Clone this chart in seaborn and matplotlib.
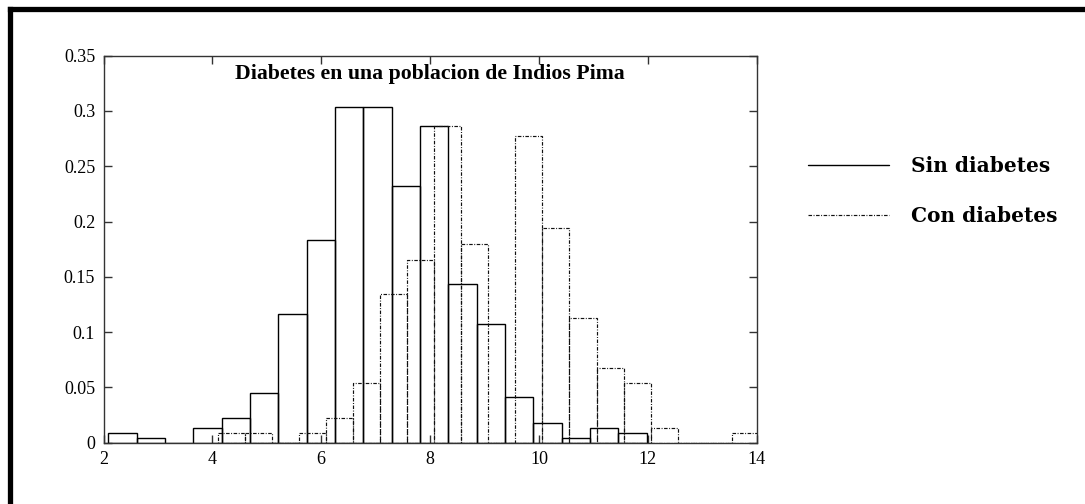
import numpy as np
import pandas as pd
import matplotlib
matplotlib.use("Agg")
import matplotlib.pyplot as plt
from matplotlib.lines import Line2D
import seaborn as sns

# ---- data ----
title = "Diabetes en una poblacion de Indios Pima"
series_names = ["Sin diabetes", "Con diabetes"]

sin_start = 2.09
sin_width = 0.5205
sin_heights = [0.0085, 0.0045, 0.0, 0.0130, 0.0220, 0.0447, 0.1161, 0.1833,
               0.3039, 0.3039, 0.2324, 0.2864, 0.1432, 0.1073, 0.0410, 0.0181,
               0.0045, 0.0130, 0.0085]

con_start = 4.10
con_width = 0.497
con_heights = [0.0085, 0.0085, 0.0, 0.0085, 0.0220, 0.0537, 0.1342, 0.1652,
               0.2864, 0.1794, 0.0, 0.2774, 0.1939, 0.1125, 0.0673, 0.0537,
               0.0130, 0.0, 0.0, 0.0085]

x_ticks = [2, 4, 6, 8, 10, 12, 14]
y_ticks = [0, 0.05, 0.1, 0.15, 0.2, 0.25, 0.3, 0.35]
y_tick_labels = ["0", "0.05", "0.1", "0.15", "0.2", "0.25", "0.3", "0.35"]

# ---- style ----
sns.set_style("ticks")
plt.rcParams["font.family"] = ["Liberation Serif", "DejaVu Serif"]
plt.rcParams["text.color"] = "black"
plt.rcParams["xtick.color"] = "black"
plt.rcParams["ytick.color"] = "black"

fig = plt.figure(figsize=(10.85, 5.04), dpi=100)
ax = fig.add_axes([0.0954, 0.1216, 0.6020, 0.7679])

def edges_for(start, width, n):
    return [float(start + width * k) for k in range(n + 1)]

sin_edges = edges_for(sin_start, sin_width, len(sin_heights))
con_edges = edges_for(con_start, con_width, len(con_heights))
sin_df = pd.DataFrame({"x": [(a + b) / 2 for a, b in zip(sin_edges[:-1], sin_edges[1:])],
                       "w": sin_heights})
con_df = pd.DataFrame({"x": [(a + b) / 2 for a, b in zip(con_edges[:-1], con_edges[1:])],
                       "w": con_heights})

dashdot = (0, (3.0, 1.3, 0.8, 1.3))

sns.histplot(data=sin_df, x="x", weights="w", bins=sin_edges, stat="count",
             element="bars", fill=False, ax=ax, color="black",
             linewidth=1.0, linestyle="-")
sns.histplot(data=con_df, x="x", weights="w", bins=con_edges, stat="count",
             element="bars", fill=False, ax=ax, color="#111111",
             linewidth=0.85, linestyle=dashdot)

ax.set_xlim(2, 14)
ax.set_ylim(0, 0.35)
ax.set_xticks(x_ticks)
ax.set_xticklabels([str(t) for t in x_ticks])
ax.set_yticks(y_ticks)
ax.set_yticklabels(y_tick_labels)
ax.set_xlabel("")
ax.set_ylabel("")
for s in ax.spines.values():
    s.set_visible(True)
    s.set_color("#333333")
    s.set_linewidth(1.0)
ax.tick_params(direction="in", length=6, width=1, color="#333333",
               labelcolor="black", top=True, right=True, labelsize=13, pad=6)

ax.text(0.5, 0.953, title, transform=ax.transAxes, ha="center", va="center",
        fontsize=15.7, fontweight="bold", family="Liberation Serif", color="black")

# legend (outside right)
handles = [Line2D([], [], color="black", lw=1.0, linestyle="-"),
           Line2D([], [], color="#111111", lw=0.85, linestyle=dashdot)]
leg = fig.legend(handles, series_names, loc="upper left",
                 bbox_to_anchor=(0.728, 0.726), frameon=False,
                 handlelength=4.0, handletextpad=1.1, labelspacing=1.5,
                 prop={"family": "DejaVu Serif", "weight": "bold", "size": 14.5})
for t in leg.get_texts():
    t.set_color("black")

# thick outer frame (left and top edges visible)
fig.add_artist(Line2D([10 / 1085, 1.02], [1 - 8.5 / 504, 1 - 8.5 / 504],
                      transform=fig.transFigure, color="black", lw=3.8,
                      solid_capstyle="projecting"))
fig.add_artist(Line2D([10 / 1085, 10 / 1085], [1 - 8.5 / 504, -0.02],
                      transform=fig.transFigure, color="black", lw=3.8,
                      solid_capstyle="projecting"))

fig.savefig("out.png", dpi=100)
